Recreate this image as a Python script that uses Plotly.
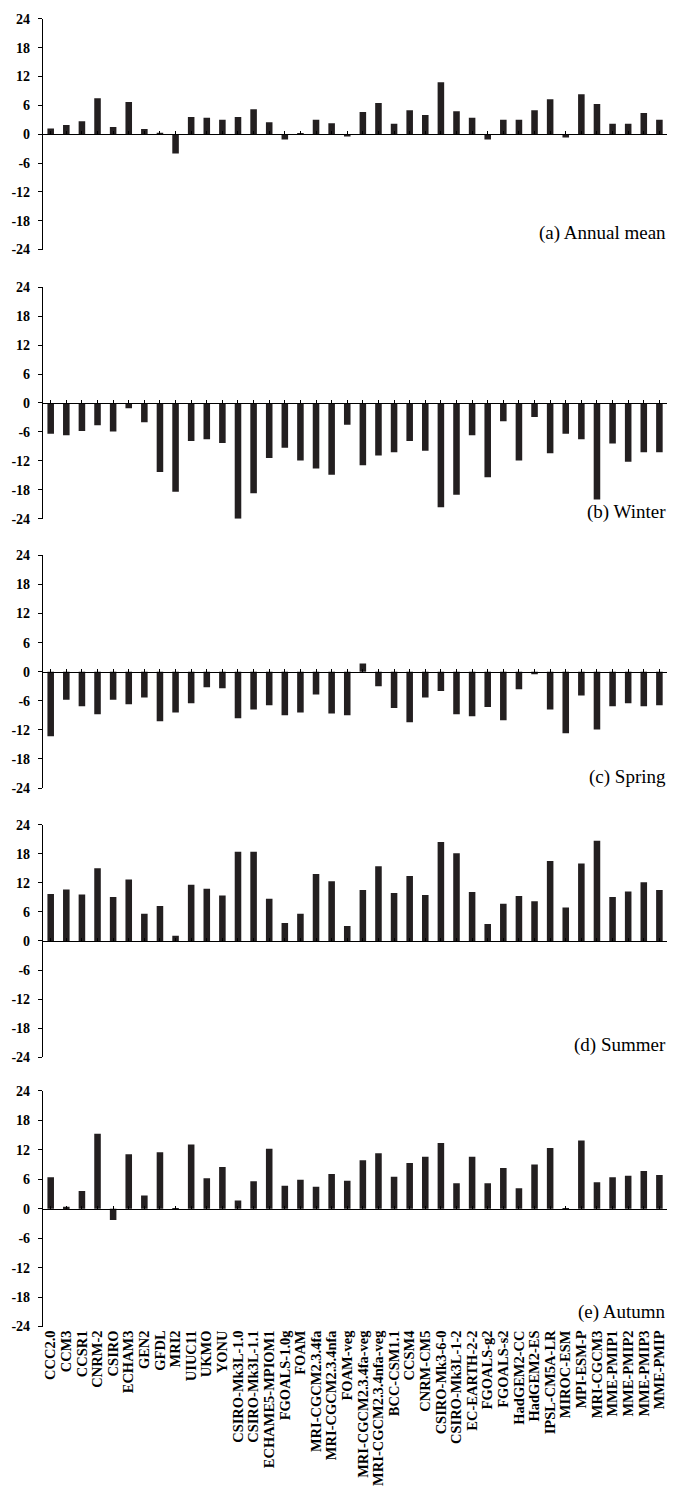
import plotly.graph_objects as go

models = ["CCC2.0", "CCM3", "CCSR1", "CNRM-2", "CSIRO", "ECHAM3", "GEN2", "GFDL", "MRI2",
          "UIUC11", "UKMO", "YONU", "CSIRO-Mk3L-1.0", "CSIRO-Mk3L-1.1", "ECHAME5-MPIOM1",
          "FGOALS-1.0g", "FOAM", "MRI-CGCM2.3.4fa", "MRI-CGCM2.3.4nfa", "FOAM-veg",
          "MRI-CGCM2.3.4fa-veg", "MRI-CGCM2.3.4nfa-veg", "BCC-CSM1.1", "CCSM4", "CNRM-CM5",
          "CSIRO-Mk3-6-0", "CSIRO-Mk3L-1-2", "EC-EARTH-2-2", "FGOALS-g2", "FGOALS-s2",
          "HadGEM2-CC", "HadGEM2-ES", "IPSL-CM5A-LR", "MIROC-ESM", "MPI-ESM-P", "MRI-CGCM3",
          "MME-PMIP1", "MME-PMIP2", "MME-PMIP3", "MME-PMIP"]

annual = [1.2, 1.9, 2.7, 7.5, 1.5, 6.7, 1.1, 0.3, -4.0, 3.6, 3.4, 3.0, 3.6, 5.2, 2.5, -1.1,
          0.1, 3.0, 2.3, -0.5, 4.6, 6.5, 2.2, 5.0, 4.0, 10.8, 4.8, 3.4, -1.1, 3.0, 3.0, 5.0,
          7.3, -0.7, 8.3, 6.3, 2.2, 2.2, 4.4, 3.0]
winter = [-6.4, -6.7, -5.8, -4.6, -5.9, -1.1, -4.0, -14.3, -18.4, -7.9, -7.5, -8.3, -24.0,
          -18.7, -11.4, -9.3, -11.9, -13.6, -14.9, -4.5, -12.9, -10.9, -10.2, -7.9, -9.9,
          -21.6, -19.0, -6.7, -15.4, -3.8, -11.9, -2.9, -10.4, -6.4, -7.5, -20.0, -8.4,
          -12.2, -10.2, -10.2]
spring = [-13.3, -5.8, -7.1, -8.8, -5.8, -6.7, -5.3, -10.2, -8.4, -6.5, -3.2, -3.4, -9.6,
          -7.8, -6.9, -9.0, -8.4, -4.7, -8.6, -9.0, 1.7, -3.0, -7.5, -10.4, -5.3, -4.0,
          -8.8, -9.2, -7.3, -10.0, -3.6, -0.5, -7.8, -12.7, -4.9, -11.9, -7.1, -6.5, -7.1,
          -6.9]
summer = [9.7, 10.6, 9.6, 15.0, 9.1, 12.7, 5.6, 7.2, 1.1, 11.6, 10.8, 9.4, 18.4, 18.4, 8.7,
          3.7, 5.6, 13.8, 12.3, 3.1, 10.5, 15.4, 9.9, 13.4, 9.5, 20.4, 18.1, 10.1, 3.5, 7.7,
          9.3, 8.2, 16.5, 6.9, 16.0, 20.7, 9.1, 10.2, 12.1, 10.5]
autumn = [6.4, 0.4, 3.6, 15.3, -2.3, 11.1, 2.7, 11.5, 0.1, 13.1, 6.2, 8.5, 1.7, 5.6, 12.2,
          4.7, 5.9, 4.5, 7.1, 5.7, 9.9, 11.3, 6.5, 9.3, 10.6, 13.4, 5.2, 10.6, 5.2, 8.3, 4.2,
          9.0, 12.4, -0.2, 13.9, 5.4, 6.4, 6.7, 7.7, 6.9]

panel_titles = ["(a) Annual mean", "(b) Winter", "(c) Spring", "(d) Summer", "(e) Autumn"]
title_y = [-20.5, -22.6, -21.8, -21.5, -21.0]
y_ticks = [24, 18, 12, 6, 0, -6, -12, -18, -24]
y_ticktext = [str(v) for v in y_ticks]

series = [annual, winter, spring, summer, autumn]

H = 1487
W = 681
# panel pixel extents (top, bottom)
panel_px = [(12, 245), (283, 517), (554, 789), (826, 1061), (1095, 1333)]
x_dom = [42.9 / W, 667.2 / W]
idx = list(range(len(models)))

BAR = "#231f20"
ytickfont = dict(family="Liberation Serif", size=14, color="black", weight="bold")
xtickfont = dict(family="Liberation Serif", size=14.5, color="black", weight="bold")

fig = go.Figure()
layout = dict(
    width=W, height=H,
    margin=dict(l=0, r=0, t=0, b=0),
    paper_bgcolor="white", plot_bgcolor="white",
    showlegend=False,
    bargap=0.58,
)

for i, vals in enumerate(series):
    n = i + 1
    xs = "x" if n == 1 else f"x{n}"
    ys = "y" if n == 1 else f"y{n}"
    fig.add_trace(go.Bar(x=idx, y=vals, marker=dict(color=BAR, line=dict(width=0)),
                         xaxis=xs, yaxis=ys, hovertext=models))
    top, bot = panel_px[i]
    d0 = (H - bot) / H
    d1 = (H - top) / H
    mid = (d0 + d1) / 2
    layout[f"xaxis{'' if n == 1 else n}"] = dict(
        domain=x_dom, anchor="free", position=mid, range=[-0.5, len(models) - 0.5],
        showline=True, linecolor="black", linewidth=1.3,
        ticks="inside", ticklen=3, tickcolor="black", tickwidth=1,
        tickmode="array", tickvals=idx, showticklabels=False,
        showgrid=False, zeroline=False, fixedrange=True,
    )
    layout[f"yaxis{'' if n == 1 else n}"] = dict(
        domain=[d0, d1], anchor=xs, range=[-24, 24],
        tickmode="array", tickvals=y_ticks, ticktext=y_ticktext,
        showline=True, linecolor="black", linewidth=1,
        ticks="outside", ticklen=4, tickcolor="black", ticklabelstandoff=5,
        tickfont=ytickfont, showgrid=False, zeroline=False, fixedrange=True,
    )
    fig.add_annotation(text=panel_titles[i], xref="paper", x=668 / W, xanchor="right",
                       yref=ys, y=title_y[i], yanchor="middle", showarrow=False,
                       font=dict(family="Liberation Serif", size=19, color="black"))

# category label axis beneath the bottom panel (empty helper trace so the axis is drawn)
fig.add_trace(go.Scatter(x=idx, y=[None] * len(idx), xaxis="x6", yaxis="y5",
                         mode="markers", hoverinfo="skip", showlegend=False))
layout["xaxis6"] = dict(
    overlaying="x5", anchor="y5", side="bottom", range=[-0.5, len(models) - 0.5],
    tickmode="array", tickvals=idx, ticktext=models, tickangle=-90,
    showline=False, ticks="", tickfont=xtickfont, showgrid=False, zeroline=False,
    fixedrange=True,
)

fig.update_layout(**layout)
fig.write_html("out.html")
